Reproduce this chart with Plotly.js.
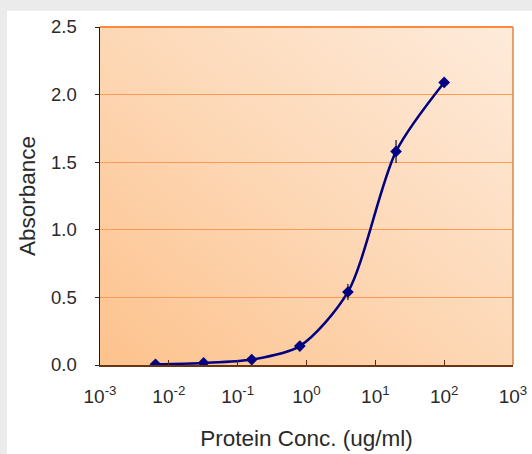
<!DOCTYPE html>
<html>
<head>
<meta charset="utf-8">
<script src="https://cdn.plot.ly/plotly-3.0.1.min.js"></script>
<style>
html,body{margin:0;padding:0;background:#ebebeb;width:532px;height:454px;overflow:hidden;}
#chart{position:absolute;left:7px;top:11px;width:525px;height:443px;}
</style>
</head>
<body>
<div id="chart"></div>
<script>
// Data
var concentration = [0.0064, 0.032, 0.16, 0.8, 4, 20, 100];
var absorbance = [0.005, 0.015, 0.04, 0.14, 0.54, 1.58, 2.09];
var errorBars = [0, 0, 0, 0, 0.06, 0.085, 0];
var xTickVals = [0.001, 0.01, 0.1, 1, 10, 100, 1000];
var xTickText = ['10<sup>-3</sup>', '10<sup>-2</sup>', '10<sup>-1</sup>', '10<sup>0</sup>', '10<sup>1</sup>', '10<sup>2</sup>', '10<sup>3</sup>'];
var yTickVals = [0, 0.5, 1.0, 1.5, 2.0, 2.5];
var yTickText = ['0.0', '0.5', '1.0', '1.5', '2.0', '2.5'];

var gradSvg = '<svg xmlns="http://www.w3.org/2000/svg" width="100" height="100" preserveAspectRatio="none">' +
  '<defs><linearGradient id="g" x1="0" y1="1" x2="1" y2="0">' +
  '<stop offset="0" stop-color="#fdc28d"/><stop offset="0.5" stop-color="#fdd8b6"/><stop offset="1" stop-color="#feebdb"/>' +
  '</linearGradient></defs><rect width="100" height="100" fill="url(#g)"/></svg>';
var gradUri = 'data:image/svg+xml;base64,' + btoa(gradSvg);

var trace = {
  x: concentration,
  y: absorbance,
  type: 'scatter',
  mode: 'lines+markers',
  line: {color: '#000080', width: 2.5, shape: 'spline', smoothing: 0.8},
  marker: {symbol: 'diamond', size: 9, color: '#000080'},
  error_y: {type: 'data', array: errorBars, visible: true, color: '#111111', thickness: 1.2, width: 0},
  showlegend: false,
  hoverinfo: 'x+y'
};

var layout = {
  width: 525,
  height: 443,
  margin: {l: 93, r: 19, t: 16, b: 89},
  paper_bgcolor: '#ffffff',
  plot_bgcolor: '#fdd3ad',
  font: {family: 'Liberation Sans, Arial, sans-serif', size: 18, color: '#2a2a2a'},
  xaxis: {
    type: 'log',
    range: [-3, 3],
    tickvals: xTickVals,
    ticktext: xTickText,
    ticks: 'inside',
    ticklen: 5,
    tickcolor: '#5a2a10',
    tickfont: {size: 19, color: '#2a2a2a'},
    ticklabelstandoff: 14,
    showgrid: false,
    zeroline: false,
    showline: true,
    linecolor: '#6b3410',
    linewidth: 1.5,
    title: {text: 'Protein Conc. (ug/ml)', font: {size: 22.5, color: '#2a2a2a'}, standoff: 24}
  },
  yaxis: {
    range: [0, 2.5],
    tickvals: yTickVals,
    ticktext: yTickText,
    ticks: 'outside',
    ticklen: 4,
    tickcolor: '#222222',
    tickfont: {size: 18.5, color: '#2a2a2a'},
    ticklabelstandoff: 14,
    showgrid: true,
    gridcolor: '#ff9a55',
    gridwidth: 1,
    zeroline: false,
    showline: true,
    linecolor: '#1a1a1a',
    linewidth: 1.5,
    title: {text: 'Absorbance', font: {size: 22.5, color: '#2a2a2a'}, standoff: 9}
  },
  images: [{
    source: gradUri,
    xref: 'paper', yref: 'paper',
    x: 0, y: 1, sizex: 1, sizey: 1,
    sizing: 'stretch', layer: 'below',
    xanchor: 'left', yanchor: 'top'
  }],
  shapes: [
    {type: 'line', xref: 'paper', yref: 'paper', x0: 0, x1: 1, y0: 1, y1: 1, line: {color: '#ff8a3d', width: 2}},
    {type: 'line', xref: 'paper', yref: 'paper', x0: 1, x1: 1, y0: 0, y1: 1, line: {color: '#d9864a', width: 1.5}}
  ]
};

Plotly.newPlot('chart', [trace], layout, {displayModeBar: false, staticPlot: true});
</script>
</body>
</html>
